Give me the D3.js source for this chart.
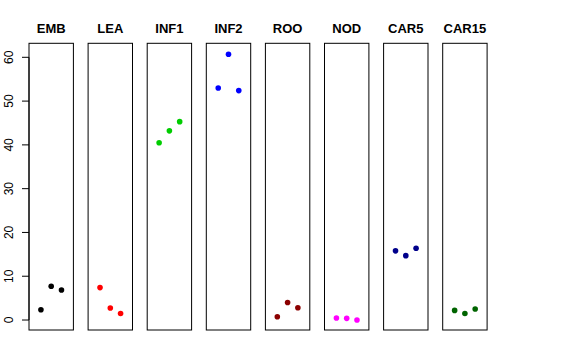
<!DOCTYPE html>
<html>
<head>
<meta charset="utf-8">
<script src="https://cdn.jsdelivr.net/npm/d3@7"></script>
<style>
  body { margin: 0; background: #fff; }
  text { font-family: "Liberation Sans", Arial, Helvetica, sans-serif; }
</style>
</head>
<body>
<svg id="chart" width="576" height="360"></svg>
<script>
// tissues, one panel each
const tissues = ["EMB", "LEA", "INF1", "INF2", "ROO", "NOD", "CAR5", "CAR15"];
const colors = ["#000000", "#ff0000", "#00cd00", "#0000ff", "#8b0000", "#ff00ff", "#00008b", "#006400"];
// three replicates per tissue
const rep1 = [2.35, 7.4, 40.5, 53.0, 0.76, 0.46, 15.8, 2.2];
const rep2 = [7.7, 2.75, 43.2, 60.7, 4.0, 0.38, 14.7, 1.5];
const rep3 = [6.85, 1.5, 45.3, 52.4, 2.8, 0.0, 16.4, 2.5];
const yTicks = [0, 10, 20, 30, 40, 50, 60];

const svg = d3.select("#chart");

const panelLeft = 29, panelStep = 59.1, panelWidth = 44.4;
const plotTop = 43.3, plotBottom = 330;

const y = d3.scaleLinear().domain([-2.28, 63.2]).range([plotBottom, plotTop]);

// y axis (drawn on first panel)
const gAxis = svg.append("g").attr("transform", `translate(${panelLeft},0)`);
gAxis.append("line")
  .attr("x1", 0).attr("x2", 0)
  .attr("y1", y(0)).attr("y2", y(60))
  .attr("stroke", "#000");
yTicks.forEach(t => {
  gAxis.append("line")
    .attr("x1", -7).attr("x2", 0)
    .attr("y1", y(t)).attr("y2", y(t))
    .attr("stroke", "#000");
  gAxis.append("text")
    .attr("transform", `translate(-16.5,${y(t)}) rotate(-90)`)
    .attr("text-anchor", "middle")
    .attr("font-size", "12px")
    .text(t);
});

tissues.forEach((name, i) => {
  const x0 = panelLeft + panelStep * i;
  const x = d3.scaleLinear().domain([-0.16, 4.16]).range([x0, x0 + panelWidth]);
  const g = svg.append("g");

  g.append("rect")
    .attr("x", x0).attr("y", plotTop)
    .attr("width", panelWidth).attr("height", plotBottom - plotTop)
    .attr("fill", "none").attr("stroke", "#000").attr("stroke-width", 1);

  g.append("text")
    .attr("x", x0 + panelWidth / 2)
    .attr("y", 32.5)
    .attr("text-anchor", "middle")
    .attr("font-size", "13px")
    .attr("font-weight", "bold")
    .text(name);

  const vals = [rep1[i], rep2[i], rep3[i]];
  g.selectAll("circle").data(vals).join("circle")
    .attr("cx", (d, j) => x(j + 1))
    .attr("cy", d => y(d))
    .attr("r", 2.8)
    .attr("fill", colors[i]);
});
</script>
</body>
</html>
